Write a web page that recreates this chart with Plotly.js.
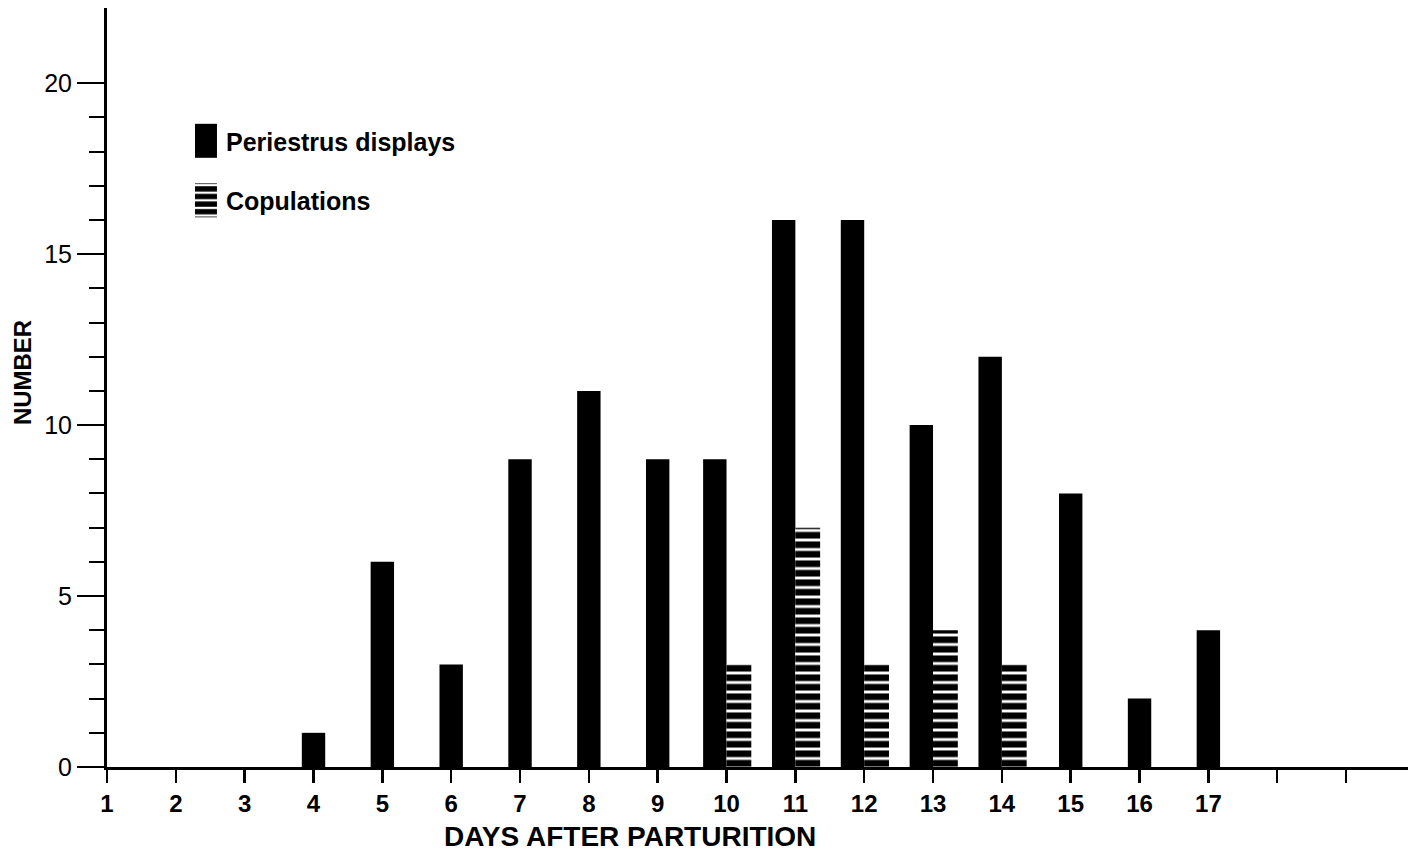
<!DOCTYPE html>
<html>
<head>
<meta charset="utf-8">
<script src="https://cdn.plot.ly/plotly-3.0.1.min.js"></script>
<style>html,body{margin:0;padding:0;background:#fff;}#chart{width:1408px;height:854px;}</style>
</head>
<body>
<div id="chart"></div>
<script>
// Data
var days = [1,2,3,4,5,6,7,8,9,10,11,12,13,14,15,16,17];
var periestrus = [0,0,0,1,6,3,9,11,9,9,16,16,10,12,8,2,4];
var copulations = [0,0,0,0,0,0,0,0,0,3,7,3,4,3,0,0,0];
var xTickVals = [1,2,3,4,5,6,7,8,9,10,11,12,13,14,15,16,17,18,19];
var xTickLabels = ['1','2','3','4','5','6','7','8','9','10','11','12','13','14','15','16','17','',''];
var yTickVals = [0,5,10,15,20];
var yTickLabels = ['0','5','10','15','20'];
var yMinorVals = [1,2,3,4,6,7,8,9,11,12,13,14,16,17,18,19];

var wBlack = 0.34, wCop = 0.36;
var blackOffset = copulations.map(function(c){ return c > 0 ? -wBlack : -wBlack/2; });
var copDays = [], copVals = [];
days.forEach(function(d,i){ if (copulations[i] > 0) { copDays.push(d); copVals.push(copulations[i]); } });

var font = '"Liberation Sans", Arial, sans-serif';

var traces = [
  {
    type: 'bar', name: 'Periestrus displays', x: days, y: periestrus,
    width: wBlack, offset: blackOffset,
    marker: {color: '#000', line: {width: 0}},
    legendgroup: 'a'
  },
  {
    type: 'bar', name: 'Copulations', x: copDays, y: copVals,
    width: wCop, offset: 0,
    marker: {color: '#fff', line: {width: 0},
      pattern: {shape: '-', fgcolor: '#000', bgcolor: '#fff', size: 9.5, solidity: 0.7, fillmode: 'replace'}},
    legendgroup: 'b'
  }
];

var layout = {
  width: 1408, height: 854,
  margin: {l: 107, r: 0, t: 8, b: 87},
  paper_bgcolor: '#fff', plot_bgcolor: '#fff',
  barmode: 'overlay',
  showlegend: true,
  legend: {
    x: 0.0607, y: 0.855, xanchor: 'left', yanchor: 'top',
    font: {family: font, size: 25, color: '#000', weight: 'bold'},
    traceorder: 'grouped', tracegroupgap: 24, itemwidth: 30,
    bgcolor: 'rgba(0,0,0,0)'
  },
  xaxis: {
    range: [1, 19.9], showgrid: false, zeroline: false,
    showline: true, linecolor: '#000', linewidth: 3,
    ticks: 'outside', ticklen: 13, tickwidth: 2.5, tickcolor: '#000',
    tickmode: 'array', tickvals: xTickVals, ticktext: xTickLabels,
    tickfont: {family: font, size: 24, color: '#000', weight: 'bold'},
    fixedrange: true
  },
  yaxis: {
    range: [0, 22.2], showgrid: false, zeroline: false,
    showline: true, linecolor: '#000', linewidth: 3,
    ticks: 'outside', ticklen: 27, tickwidth: 2, tickcolor: '#000',
    tickmode: 'array', tickvals: yTickVals, ticktext: yTickLabels,
    tickfont: {family: font, size: 25, color: '#000'},
    minor: {tickmode: 'array', tickvals: yMinorVals, ticks: 'outside', ticklen: 15, tickwidth: 2, tickcolor: '#000', showgrid: false},
    fixedrange: true
  },
  annotations: [
    {text: 'DAYS AFTER PARTURITION', xref: 'paper', yref: 'paper', x: 0.402, y: -0.092,
     xanchor: 'center', yanchor: 'middle', showarrow: false,
     font: {family: font, size: 28, color: '#000', weight: 'bold'}},
    {text: 'NUMBER', xref: 'paper', yref: 'paper', x: -0.0653, y: 0.519, textangle: -90,
     xanchor: 'center', yanchor: 'middle', showarrow: false,
     font: {family: font, size: 24, color: '#000', weight: 'bold'}}
  ]
};

Plotly.newPlot('chart', traces, layout, {displayModeBar: false, staticPlot: true}).then(function(){
  // enlarge the legend swatches to the tall blocks of the original key
  document.querySelectorAll('.legendpoints path').forEach(function(p){
    p.setAttribute('d', 'M11,17H-11V-17H11Z');
  });
});
</script>
</body>
</html>
